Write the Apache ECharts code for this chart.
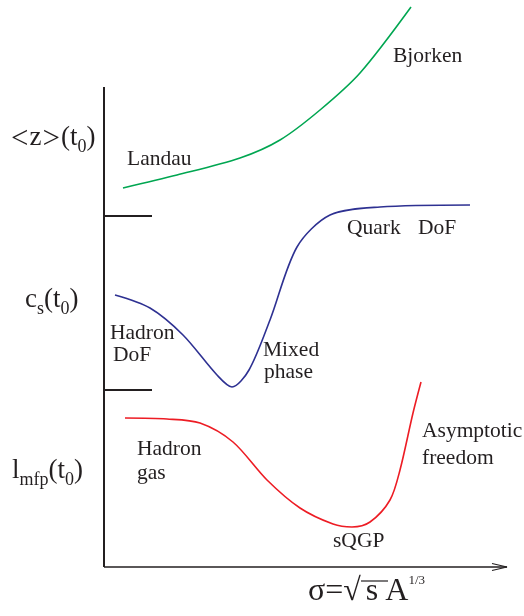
<!DOCTYPE html>
<html>
<head>
<meta charset="utf-8">
<script src="https://cdn.jsdelivr.net/npm/echarts@6/dist/echarts.min.js"></script>
<style>html,body{margin:0;padding:0;background:#fff;}#c{width:524px;height:616px;}</style>
</head>
<body>
<div id="c"></div>
<script>
// sigma in arbitrary units (x), quantity in arbitrary units (y)
const landauBjorken = [[1.9,37.9],[7.3,39.2],[13.6,40.9],[17.6,42.7],[21.6,45.7],[25.6,49.4],[30.7,56.0]];
const soundSpeed = [[1.1,27.2],[4.6,25.9],[7.9,23.2],[11.3,19.2],[12.8,18.0],[14.5,19.7],[16.6,24.7],[19.3,32.0],[22.6,35.2],[27.6,36.0],[36.6,36.2]];
const meanFreePath = [[2.1,14.9],[6.3,14.8],[9.6,14.4],[12.9,12.5],[16.3,8.7],[19.6,5.9],[22.9,4.3],[24.8,4.0],[26.6,4.5],[28.6,6.7],[29.6,9.7],[30.9,15.4],[31.7,18.5]];
const yAxisLine = [[0,48],[0,0]];
const xAxisLine = [[0,0],[40.3,0]];
const arrowHead = [[38.8,0.35],[40.3,0],[38.8,-0.35]];
const panelTicks = [[[0,35.1],[4.8,35.1]],[[0,17.7],[4.8,17.7]]];

const serif = 'Liberation Serif';
const ink = '#231f20';
const chart = echarts.init(document.getElementById('c'));

function curve(data, color){
  return {type:'line', data:data, smooth:0.3, smoothMonotone:'none', symbol:'none', clip:false,
    lineStyle:{color:color, width:1.6}, silent:true};
}
function stroke(data, w){
  return {type:'line', data:data, symbol:'none', clip:false,
    lineStyle:{color:ink, width:w}, silent:true};
}
function label(x, y, text, size){
  return {type:'text', x:x, y:y, style:{text:text, fontFamily:serif, fontSize:size||21.5,
    fill:ink, verticalAlign:'middle', align:'left'}};
}

const series = [
  curve(landauBjorken, '#00a651'),
  curve(soundSpeed, '#2e3192'),
  curve(meanFreePath, '#ed1c24'),
  stroke(yAxisLine, 2),
  stroke(xAxisLine, 1.6),
  stroke(arrowHead, 1.2)
];
panelTicks.forEach(t => series.push(stroke(t, 2)));

const mainY = {fontFamily:serif, fontSize:27, verticalAlign:'top', lineHeight:30, fill:ink};
const wideY = {fontFamily:serif, fontSize:31, verticalAlign:'top', lineHeight:30, fill:ink, padding:[0,1,0,1]};
const subY = {fontFamily:serif, fontSize:18, verticalAlign:'bottom', lineHeight:32, fill:ink};
const richY = {m:mainY, s:subY, w:wideY};

chart.setOption({
  animation:false,
  grid:{left:104, top:7, width:403, height:560, containLabel:false},
  xAxis:{type:'value', min:0, max:40.3, show:false},
  yAxis:{type:'value', min:0, max:56, show:false},
  series:series,
  graphic:[
    label(127,159,'Landau'),
    label(393,56,'Bjorken'),
    label(347,228,'Quark'),
    label(418,228,'DoF'),
    label(110,333,'Hadron'),
    label(113,355,'DoF'),
    label(263,350,'Mixed'),
    label(264,372,'phase'),
    label(137,449,'Hadron'),
    label(137,473,'gas'),
    label(422,431,'Asymptotic'),
    label(422,458,'freedom'),
    label(333,541,'sQGP'),
    {type:'text', x:10, y:124, style:{text:'{w|<}{m|z}{w|>}{m|(t}{s|0}{m|)}', rich:richY, align:'left', verticalAlign:'top'}},
    {type:'text', x:25, y:286, style:{text:'{m|c}{s|s}{m|(t}{s|0}{m|)}', rich:richY, align:'left', verticalAlign:'top'}},
    {type:'text', x:12, y:457, style:{text:'{m|l}{s|mfp}{m|(t}{s|0}{m|)}', rich:richY, align:'left', verticalAlign:'top'}},
    {type:'text', x:308, y:574, style:{text:'{m|σ=√}{g| }{m|s}{h| }{m|A}{p|1/3}', align:'left', verticalAlign:'top',
      rich:{m:{fontFamily:serif, fontSize:32, verticalAlign:'bottom', lineHeight:34, fill:ink},
            g:{fontFamily:serif, fontSize:20, verticalAlign:'bottom', lineHeight:34, fill:ink},
            h:{fontFamily:serif, fontSize:28, verticalAlign:'bottom', lineHeight:34, fill:ink},
            p:{fontFamily:serif, fontSize:13, verticalAlign:'top', lineHeight:14, fill:ink}}}},
    {type:'line', shape:{x1:361, y1:581, x2:388, y2:581}, style:{stroke:ink, lineWidth:1.2}}
  ]
});
</script>
</body>
</html>
